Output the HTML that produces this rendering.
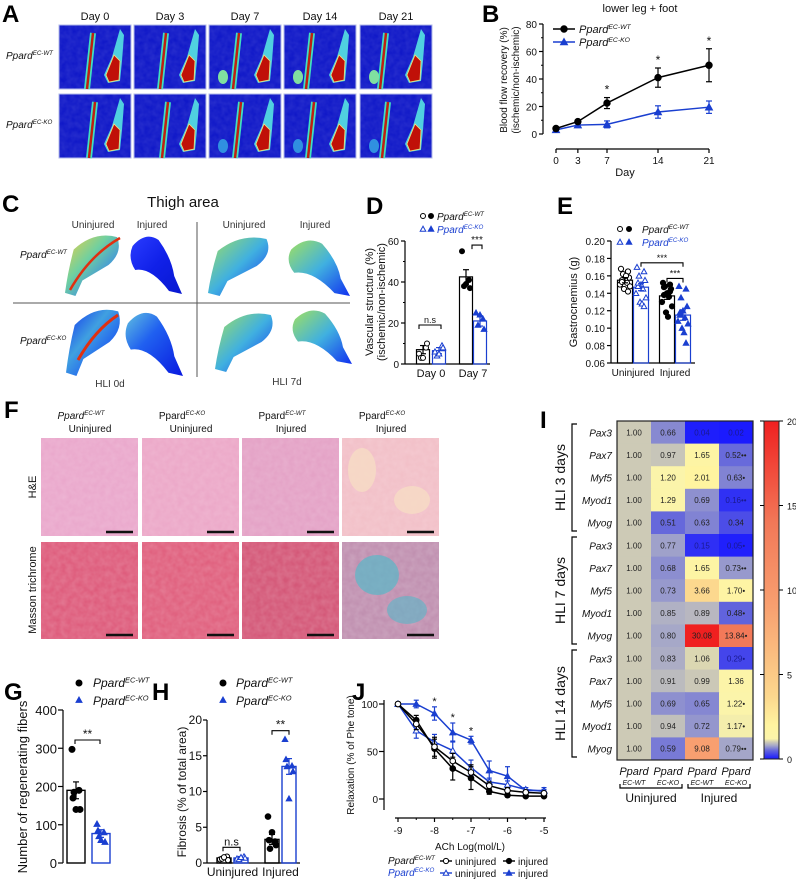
<!DOCTYPE html>
<html><head><meta charset="utf-8"><title>Figure</title>
<style>
html,body{margin:0;padding:0;background:#fff;}
svg{display:block;font-family:"Liberation Sans",Arial,sans-serif;}
</style></head>
<body>
<svg id="fig" width="796" height="882" viewBox="0 0 796 882" xmlns="http://www.w3.org/2000/svg">
<defs>
  <linearGradient id="gBlue" x1="0" y1="0" x2="1" y2="1"><stop offset="0" stop-color="#2a3cff"/><stop offset="0.5" stop-color="#1020e8"/><stop offset="1" stop-color="#0818d0"/></linearGradient>
  <linearGradient id="gWarm" x1="0" y1="0" x2="1" y2="1"><stop offset="0" stop-color="#f0d040"/><stop offset="0.4" stop-color="#70d0a0"/><stop offset="0.8" stop-color="#3080f0"/><stop offset="1" stop-color="#1030f0"/></linearGradient>
  <linearGradient id="gMid" x1="0" y1="0" x2="1" y2="1"><stop offset="0" stop-color="#a0e060"/><stop offset="0.5" stop-color="#40b0e0"/><stop offset="1" stop-color="#1030f0"/></linearGradient>
  <linearGradient id="gLow" x1="0" y1="0" x2="1" y2="1"><stop offset="0" stop-color="#60c0e0"/><stop offset="0.4" stop-color="#2060f0"/><stop offset="1" stop-color="#0818e0"/></linearGradient>
  <linearGradient id="gKO0" x1="0" y1="0" x2="1" y2="1"><stop offset="0" stop-color="#1030f0"/><stop offset="0.4" stop-color="#40a0e0"/><stop offset="0.7" stop-color="#2060f0"/><stop offset="1" stop-color="#1030f0"/></linearGradient>
  <linearGradient id="cbar" x1="0" y1="1" x2="0" y2="0"></linearGradient>
  <filter id="noise" x="0" y="0" width="1" height="1"><feTurbulence type="fractalNoise" baseFrequency="0.18" numOctaves="2" seed="3"/><feColorMatrix type="matrix" values="0 0 0 0 1  0 0 0 0 1  0 0 0 0 1  0 0 0 0.35 -0.05"/></filter>
</defs>
</svg>
<script>
// ---------------- DATA ----------------
// Panel B: blood flow recovery
const bDays = [0, 3, 7, 14, 21];
const bWT = [4, 9, 22.5, 41, 50];
const bWTerr = [1, 1, 4, 7, 12];
const bKO = [3, 6.5, 7, 16, 19.5];
const bKOerr = [1, 1, 2.5, 4.5, 4.5];
const bYTicks = [0, 20, 40, 60, 80];
// Panel D: vascular structure
const dGroups = ["Day 0", "Day 7"];
const dWT = [7, 42.5];
const dWTerr = [2, 3.5];
const dKO = [6.5, 21];
const dKOerr = [1.5, 2.5];
const dWTpts0 = [5, 8, 3, 10, 3];
const dKOpts0 = [6, 9, 4, 8, 5];
const dWTpts7 = [55, 41, 38, 37, 39];
const dKOpts7 = [25, 22, 19, 17, 24];
const dYTicks = [0, 20, 40, 60];
// Panel E: gastrocnemius
const eGroups = ["Uninjured", "Injured"];
const eMeans = [0.155, 0.147, 0.137, 0.115];
const eErr = [0.003, 0.004, 0.004, 0.006];
const ePts0 = [0.168, 0.165, 0.162, 0.158, 0.156, 0.155, 0.152, 0.150, 0.148, 0.145, 0.160, 0.142, 0.153];
const ePts1 = [0.170, 0.165, 0.160, 0.155, 0.150, 0.148, 0.145, 0.140, 0.135, 0.130, 0.128, 0.125, 0.152];
const ePts2 = [0.152, 0.150, 0.148, 0.145, 0.140, 0.138, 0.136, 0.130, 0.125, 0.118, 0.113, 0.142, 0.147];
const ePts3 = [0.148, 0.145, 0.135, 0.125, 0.120, 0.118, 0.112, 0.108, 0.105, 0.100, 0.095, 0.083, 0.115];
const eYTicks = [0.06, 0.08, 0.10, 0.12, 0.14, 0.16, 0.18, 0.20];
// Panel G
const gMeans = [190, 77];
const gErr = [22, 10];
const gWTpts = [297, 190, 185, 140, 140, 170];
const gKOpts = [102, 80, 70, 55, 60, 85];
const gYTicks = [0, 100, 200, 300, 400];
// Panel H
const hGroups = ["Uninjured", "Injured"];
const hMeans = [0.7, 0.7, 3.3, 13.5];
const hErr = [0.2, 0.2, 0.7, 1.1];
const hPts0 = [0.5, 0.9, 0.6, 0.4, 0.8];
const hPts1 = [0.6, 0.9, 0.5, 0.7, 0.8];
const hPts2 = [6.5, 3.0, 2.0, 2.5, 4.3, 3.2];
const hPts3 = [17.3, 13.6, 13.5, 12.8, 9.0, 14.5];
const hYTicks = [0, 5, 10, 15, 20];
// Panel J
const jX = [-9, -8.5, -8, -7.5, -7, -6.5, -6, -5.5, -5];
const jWTu = [100, 79, 55, 40, 28, 14, 9, 7, 6];
const jWTuErr = [0, 6, 10, 8, 8, 4, 3, 2, 2];
const jWTi = [100, 83, 53, 32, 22, 8, 4, 3, 3];
const jWTiErr = [0, 5, 10, 12, 12, 3, 2, 1, 1];
const jKOu = [100, 72, 60, 51, 33, 18, 15, 10, 8];
const jKOuErr = [0, 8, 8, 10, 8, 4, 4, 2, 2];
const jKOi = [100, 100, 90, 70, 62, 30, 24, 9, 9];
const jKOiErr = [0, 4, 7, 10, 4, 10, 10, 3, 3];
const jXTicks = [-9, -8, -7, -6, -5];
const jYTicks = [0, 50, 100];
// Panel I heatmap
const iGenes = ["Pax3", "Pax7", "Myf5", "Myod1", "Myog", "Pax3", "Pax7", "Myf5", "Myod1", "Myog", "Pax3", "Pax7", "Myf5", "Myod1", "Myog"];
const iGroups = ["HLI 3 days", "HLI 7 days", "HLI 14 days"];
const iValues = [
  [1.00, 0.66, 0.04, 0.02], [1.00, 0.97, 1.65, 0.52], [1.00, 1.20, 2.01, 0.63], [1.00, 1.29, 0.69, 0.16], [1.00, 0.51, 0.63, 0.34],
  [1.00, 0.77, 0.15, 0.05], [1.00, 0.68, 1.65, 0.73], [1.00, 0.73, 3.66, 1.70], [1.00, 0.85, 0.89, 0.48], [1.00, 0.80, 30.08, 13.84],
  [1.00, 0.83, 1.06, 0.29], [1.00, 0.91, 0.99, 1.36], [1.00, 0.69, 0.65, 1.22], [1.00, 0.94, 0.72, 1.17], [1.00, 0.59, 9.08, 0.79]
];
const iStars = ["", "**", "*", "**", "", "*", "**", "*", "*", "*", "*", "", "*", "*", "**"];
const iCbTicks = [0, 5, 10, 15, 20];

// ---------------- HELPERS ----------------
const NS = "http://www.w3.org/2000/svg";
const svg = document.getElementById("fig");
function mk(tag, attrs, name, parent) {
  const el = document.createElementNS(NS, tag);
  for (const k in attrs) el.setAttribute(k, attrs[k]);
  
  
  (parent || svg).appendChild(el);
  return el;
}
function line(x1, y1, x2, y2, c, w, name) { return mk("line", {x1, y1, x2, y2, stroke: c || "#000", "stroke-width": w || 1.2}, name || "line"); }
function txt(x, y, s, size, name, opt) {
  opt = opt || {};
  const t = mk("text", {x, y, "font-size": size, "text-anchor": opt.a || "start", fill: opt.c || "#111", "font-style": opt.i ? "italic" : "normal", "font-weight": opt.b ? "bold" : "normal"}, name);
  if (opt.rot) t.setAttribute("transform", "rotate(-90 " + x + " " + y + ")");
  t.textContent = s;
  return t;
}
function pp(x, y, sup, size, name, opt) {
  opt = opt || {};
  const t = mk("text", {x, y, "font-size": size, "text-anchor": opt.a || "start", fill: opt.c || "#111"}, name);
  const a = document.createElementNS(NS, "tspan");
  a.setAttribute("font-style", opt.noItal ? "normal" : "italic");
  a.textContent = "Ppard";
  t.appendChild(a);
  const b = document.createElementNS(NS, "tspan");
  b.setAttribute("font-style", "italic");
  b.setAttribute("font-size", size * 0.62);
  b.setAttribute("dy", -size * 0.38);
  b.textContent = sup;
  t.appendChild(b);
  return t;
}
function circ(x, y, r, fill, stroke, name) { return mk("circle", {cx: x, cy: y, r, fill, stroke: stroke || fill, "stroke-width": 1}, name); }
function tri(x, y, s, fill, stroke, name) {
  return mk("polygon", {points: (x) + "," + (y - s) + " " + (x - s) + "," + (y + s * 0.8) + " " + (x + s) + "," + (y + s * 0.8), fill, stroke: stroke || fill, "stroke-width": 1}, name);
}
function errbar(x, y1, y2, c, cap, name) {
  line(x, y1, x, y2, c, 1.2, name);
  line(x - cap, y1, x + cap, y1, c, 1.2, name + "-cap-top");
  line(x - cap, y2, x + cap, y2, c, 1.2, name + "-cap-bottom");
}
function bracket(x1, x2, y, label, name, size) {
  mk("polyline", {points: x1 + "," + (y + 4) + " " + x1 + "," + y + " " + x2 + "," + y + " " + x2 + "," + (y + 4), fill: "none", stroke: "#000", "stroke-width": 1.1}, name);
  txt((x1 + x2) / 2, y - 2, label, size || 11, name + "-label", {a: "middle"});
}
function panelLetter(x, y, s) { txt(x, y, s, 24, "panel-letter-" + s.toLowerCase(), {b: true, c: "#000"}); }
const jit = [-4, 3, -2, 4, 0, -3, 2, -5, 5, -1, 1, 3, -3];

// ---------------- PANEL A (images) ----------------
panelLetter(2, 22, "A");
const aCols = [59, 134, 209, 284, 360];
const aDays = ["Day 0", "Day 3", "Day 7", "Day 14", "Day 21"];
aCols.forEach((x, i) => {
  txt(x + 36, 20, aDays[i], 11, "day-label-" + i, {a: "middle"});
  [25, 94].forEach((y, r) => {
    mk("rect", {x, y, width: 72, height: 64, fill: "#1018c8", stroke: "#b0b8e8", "stroke-width": 1}, "laser-doppler-image");
    mk("rect", {x, y, width: 72, height: 64, fill: "#fff", filter: "url(#noise)", opacity: 0.35}, "image-texture");
    const vx = x + 30 - i * 2 + r * 2;
    mk("path", {d: "M" + (vx + 4) + "," + (y + 8) + " L" + (vx - 2) + "," + (y + 64), stroke: "#40e0c0", "stroke-width": 6, fill: "none"}, "vessel-outline");
    mk("path", {d: "M" + (vx + 4) + "," + (y + 8) + " L" + (vx - 2) + "," + (y + 64), stroke: "#c02010", "stroke-width": 2.5, fill: "none"}, "vessel");
    const fx = x + 55;
    mk("path", {d: "M" + (fx + 6) + "," + (y + 4) + " L" + (fx - 2) + "," + (y + 32) + " L" + (fx - 10) + "," + (y + 50) + " L" + (fx - 6) + "," + (y + 58) + " L" + (fx + 6) + "," + (y + 56) + " L" + (fx + 8) + "," + (y + 36) + " L" + (fx + 10) + "," + (y + 10) + "Z", fill: "#50d0e0", stroke: "none"}, "foot-halo");
    mk("path", {d: "M" + (fx) + "," + (y + 30) + " L" + (fx - 8) + "," + (y + 50) + " L" + (fx - 5) + "," + (y + 57) + " L" + (fx + 5) + "," + (y + 55) + " L" + (fx + 6) + "," + (y + 36) + "Z", fill: "#c01008", stroke: "#f0e080", "stroke-width": 0.8}, "foot");
    if (i >= 2) {
      const gx = x + 14;
      mk("ellipse", {cx: gx, cy: y + 52, rx: 5, ry: 7, fill: r ? "#3090e0" : "#80e0a0"}, "ischemic-foot");
    }
  });
});
pp(6, 59, "EC-WT", 10, "row-label-wt-a");
pp(6, 128, "EC-KO", 10, "row-label-ko-a");

// ---------------- PANEL B ----------------
panelLetter(482, 22, "B");
txt(640, 12, "lower leg + foot", 11, "b-title", {a: "middle"});
const xB = d => 556 + d * (153 / 21);
const yB = v => 134 - v * (110 / 80);
line(543, 24, 543, 134, "#000", 1.2, "b-y-axis");
bYTicks.forEach(t => { line(539, yB(t), 543, yB(t), "#000", 1.2, "b-y-tick"); txt(537, yB(t) + 4, String(t), 10, "b-y-tick-label", {a: "end"}); });
[10, 30, 50, 70].forEach(t => line(541, yB(t), 543, yB(t), "#000", 1, "b-y-minor-tick"));
line(556, 149, 709, 149, "#000", 1.2, "b-x-axis");
bDays.forEach(d => { line(xB(d), 149, xB(d), 153, "#000", 1.2, "b-x-tick"); txt(xB(d), 164, String(d), 10, "b-x-tick-label", {a: "middle"}); });
txt(625, 176, "Day", 11, "b-x-axis-title", {a: "middle"});
txt(507, 80, "Blood flow recovery (%)", 10, "b-y-axis-title", {a: "middle", rot: true});
txt(519, 80, "(ischemic/non-ischemic)", 10, "b-y-axis-title-2", {a: "middle", rot: true});
mk("polyline", {points: bDays.map((d, i) => xB(d) + "," + yB(bKO[i])).join(" "), fill: "none", stroke: "#1a3fd0", "stroke-width": 1.5}, "b-ko-line");
mk("polyline", {points: bDays.map((d, i) => xB(d) + "," + yB(bWT[i])).join(" "), fill: "none", stroke: "#000", "stroke-width": 1.5}, "b-wt-line");
bDays.forEach((d, i) => {
  errbar(xB(d), yB(bKO[i] + bKOerr[i]), yB(bKO[i] - bKOerr[i]), "#1a3fd0", 3, "b-ko-errorbar");
  tri(xB(d), yB(bKO[i]), 3.5, "#1a3fd0", null, "b-ko-point");
  errbar(xB(d), yB(bWT[i] + bWTerr[i]), yB(bWT[i] - bWTerr[i]), "#000", 3, "b-wt-errorbar");
  circ(xB(d), yB(bWT[i]), 3.2, "#000", null, "b-wt-point");
  if (i >= 2) txt(xB(d), yB(bWT[i] + bWTerr[i]) - 4, "*", 12, "b-significance", {a: "middle"});
});
line(553, 29, 575, 29, "#000", 1.5, "b-legend-wt-line"); circ(564, 29, 3.2, "#000", null, "b-legend-wt-marker");
pp(579, 33, "EC-WT", 11, "b-legend-wt-label");
line(553, 42, 575, 42, "#1a3fd0", 1.5, "b-legend-ko-line"); tri(564, 42, 3.5, "#1a3fd0", null, "b-legend-ko-marker");
pp(579, 46, "EC-KO", 11, "b-legend-ko-label");

// ---------------- PANEL C (images) ----------------
panelLetter(2, 212, "C");
txt(183, 207, "Thigh area", 15, "c-title", {a: "middle"});
txt(93, 228, "Uninjured", 10, "c-col-uninjured-0d", {a: "middle", c: "#333"});
txt(152, 228, "Injured", 10, "c-col-injured-0d", {a: "middle", c: "#333"});
txt(244, 228, "Uninjured", 10, "c-col-uninjured-7d", {a: "middle", c: "#333"});
txt(315, 228, "Injured", 10, "c-col-injured-7d", {a: "middle", c: "#333"});
line(197, 222, 197, 377, "#555", 1, "c-vertical-divider");
line(13, 303, 350, 303, "#555", 1, "c-horizontal-divider");
pp(20, 258, "EC-WT", 10, "c-row-label-wt");
pp(20, 344, "EC-KO", 10, "c-row-label-ko");
txt(110, 387, "HLI 0d", 10, "c-hli-0d", {a: "middle", c: "#333"});
txt(287, 385, "HLI 7d", 10, "c-hli-7d", {a: "middle", c: "#333"});
function thigh(x, y, w, h, fill, name) {
  mk("path", {d: "M" + (x + w * 0.15) + "," + (y + h * 0.25) + " Q" + (x + w * 0.5) + "," + (y - h * 0.05) + " " + (x + w * 0.9) + "," + (y + h * 0.05) + " Q" + (x + w * 1.0) + "," + (y + h * 0.3) + " " + (x + w * 0.75) + "," + (y + h * 0.5) + " L" + (x + w * 0.3) + "," + (y + h * 0.75) + " L" + (x + w * 0.18) + "," + (y + h) + " L" + (x) + "," + (y + h * 0.95) + " Q" + (x + w * 0.05) + "," + (y + h * 0.6) + " " + (x + w * 0.15) + "," + (y + h * 0.25) + "Z", fill}, name);
}
function thighInj(x, y, w, h, fill, name) {
  mk("path", {d: "M" + (x + w * 0.05) + "," + (y + h * 0.2) + " Q" + (x + w * 0.3) + "," + (y - h * 0.05) + " " + (x + w * 0.55) + "," + (y + h * 0.1) + " Q" + (x + w * 0.8) + "," + (y + h * 0.4) + " " + (x + w * 0.85) + "," + (y + h * 0.7) + " L" + (x + w) + "," + (y + h) + " L" + (x + w * 0.75) + "," + (y + h * 0.95) + " Q" + (x + w * 0.4) + "," + (y + h * 0.55) + " " + (x + w * 0.1) + "," + (y + h * 0.6) + " Q" + (x - w * 0.05) + "," + (y + h * 0.4) + " " + (x + w * 0.05) + "," + (y + h * 0.2) + "Z", fill}, name);
}
thigh(65, 234, 58, 62, "url(#gWarm)", "c-wt-uninjured-0d");
mk("path", {d: "M70,290 Q90,255 120,238", stroke: "#e03010", "stroke-width": 2.5, fill: "none"}, "c-vessel");
thighInj(130, 234, 52, 60, "url(#gBlue)", "c-wt-injured-0d");
thigh(208, 236, 65, 60, "url(#gMid)", "c-wt-uninjured-7d");
thighInj(288, 238, 62, 58, "url(#gMid)", "c-wt-injured-7d");
thigh(66, 308, 58, 68, "url(#gKO0)", "c-ko-uninjured-0d");
mk("path", {d: "M78,360 Q95,330 118,315", stroke: "#e03010", "stroke-width": 3, fill: "none"}, "c-vessel-ko");
thighInj(125, 310, 58, 66, "url(#gLow)", "c-ko-injured-0d");
thigh(215, 312, 62, 60, "url(#gMid)", "c-ko-uninjured-7d");
thighInj(292, 308, 60, 56, "url(#gMid)", "c-ko-injured-7d");

// ---------------- PANEL D ----------------
panelLetter(366, 214, "D");
const yD = v => 364 - v * (123 / 60);
line(405, 241, 405, 364, "#000", 1.2, "d-y-axis");
dYTicks.forEach(t => { line(401, yD(t), 405, yD(t), "#000", 1.2, "d-y-tick"); txt(399, yD(t) + 4, String(t), 10, "d-y-tick-label", {a: "end"}); });
[10, 30, 50].forEach(t => line(403, yD(t), 405, yD(t), "#000", 1, "d-y-minor-tick"));
line(405, 364, 490, 364, "#000", 1.2, "d-x-axis");
const dX = [[423, 439], [466, 480]];
dGroups.forEach((g, gi) => {
  txt((dX[gi][0] + dX[gi][1]) / 2, 377, g, 11, "d-x-label", {a: "middle"});
  mk("rect", {x: dX[gi][0] - 6.5, y: yD(dWT[gi]), width: 13, height: 364 - yD(dWT[gi]), fill: "none", stroke: "#000", "stroke-width": 1.2}, "d-bar-wt");
  mk("rect", {x: dX[gi][1] - 6.5, y: yD(dKO[gi]), width: 13, height: 364 - yD(dKO[gi]), fill: "none", stroke: "#1a3fd0", "stroke-width": 1.2}, "d-bar-ko");
  errbar(dX[gi][0], yD(dWT[gi] + dWTerr[gi]), yD(dWT[gi] - dWTerr[gi]), "#000", 3, "d-wt-errorbar");
  errbar(dX[gi][1], yD(dKO[gi] + dKOerr[gi]), yD(dKO[gi] - dKOerr[gi]), "#1a3fd0", 3, "d-ko-errorbar");
});
dWTpts0.forEach((v, k) => circ(dX[0][0] + jit[k], yD(v), 2.5, "#fff", "#000", "d-wt-day0-point"));
dKOpts0.forEach((v, k) => tri(dX[0][1] + jit[k], yD(v), 2.8, "#fff", "#1a3fd0", "d-ko-day0-point"));
dWTpts7.forEach((v, k) => circ(dX[1][0] + jit[k], yD(v), 2.5, "#000", null, "d-wt-day7-point"));
dKOpts7.forEach((v, k) => tri(dX[1][1] + jit[k], yD(v), 2.8, "#1a3fd0", null, "d-ko-day7-point"));
bracket(dX[0][0] - 4, dX[0][1] + 2, yD(20) + 2, "n.s", "d-ns-bracket", 9);
bracket(dX[1][0] + 6, dX[1][1] + 2, yD(58), "***", "d-sig-bracket", 10);
txt(373, 302, "Vascular structure (%)", 11, "d-y-axis-title", {a: "middle", rot: true});
txt(385, 302, "(ischemic/non-ischemic)", 11, "d-y-axis-title-2", {a: "middle", rot: true});
circ(423, 216, 2.5, "#fff", "#000", "d-legend-open-circle"); circ(431, 216, 2.5, "#000", null, "d-legend-circle");
pp(437, 220, "EC-WT", 10, "d-legend-wt");
tri(423, 229, 2.8, "#fff", "#1a3fd0", "d-legend-open-tri"); tri(431, 229, 2.8, "#1a3fd0", null, "d-legend-tri");
pp(437, 233, "EC-KO", 10, "d-legend-ko", {c: "#1a3fd0"});

// ---------------- PANEL E ----------------
panelLetter(557, 214, "E");
const yE = v => 363 - (v - 0.06) * (122 / 0.14);
line(611, 241, 611, 363, "#000", 1.2, "e-y-axis");
eYTicks.forEach(t => { line(607, yE(t), 611, yE(t), "#000", 1.2, "e-y-tick"); txt(605, yE(t) + 4, t.toFixed(2), 10, "e-y-tick-label", {a: "end"}); });
line(611, 363, 695, 363, "#000", 1.2, "e-x-axis");
const eX = [625, 641, 667, 683];
const eCol = ["#000", "#1a3fd0", "#000", "#1a3fd0"];
eMeans.forEach((m, i) => {
  mk("rect", {x: eX[i] - 7.5, y: yE(m), width: 15, height: 363 - yE(m), fill: "none", stroke: eCol[i], "stroke-width": 1.2}, "e-bar");
});
ePts0.forEach((v, k) => circ(eX[0] + jit[k], yE(v), 2.6, "#fff", "#000", "e-wt-uninjured-point"));
ePts1.forEach((v, k) => tri(eX[1] + jit[k], yE(v), 2.8, "#fff", "#1a3fd0", "e-ko-uninjured-point"));
ePts2.forEach((v, k) => circ(eX[2] + jit[k], yE(v), 2.6, "#000", null, "e-wt-injured-point"));
ePts3.forEach((v, k) => tri(eX[3] + jit[k], yE(v), 2.8, "#1a3fd0", null, "e-ko-injured-point"));
eMeans.forEach((m, i) => errbar(eX[i], yE(m + eErr[i]), yE(m - eErr[i]), eCol[i], 3, "e-errorbar"));
eGroups.forEach((g, gi) => txt((eX[gi * 2] + eX[gi * 2 + 1]) / 2, 376, g, 10, "e-x-label", {a: "middle"}));
bracket(eX[1], eX[3], yE(0.175), "***", "e-sig-bracket-ko", 9);
bracket(eX[2], eX[3], yE(0.157), "***", "e-sig-bracket-injured", 9);
txt(577, 302, "Gastrocnemius (g)", 11, "e-y-axis-title", {a: "middle", rot: true});
circ(620, 229, 2.5, "#fff", "#000", "e-legend-open-circle"); circ(629, 229, 2.5, "#000", null, "e-legend-circle");
pp(642, 233, "EC-WT", 10, "e-legend-wt");
tri(620, 242, 2.8, "#fff", "#1a3fd0", "e-legend-open-tri"); tri(629, 242, 2.8, "#1a3fd0", null, "e-legend-tri");
pp(642, 246, "EC-KO", 10, "e-legend-ko", {c: "#1a3fd0"});

// ---------------- PANEL F (histology) ----------------
panelLetter(4, 418, "F");
const fCols = [41, 142, 242, 342];
const fTitles = [["EC-WT", "Uninjured", true], ["EC-KO", "Uninjured", false], ["EC-WT", "Injured", false], ["EC-KO", "Injured", false]];
const heCol = ["#eaa8cc", "#eca8c8", "#e4a2c6", "#f2c0c8"];
const mtCol = ["#de5c7c", "#e0607e", "#d45878", "#c090b0"];
fCols.forEach((x, i) => {
  pp(x + 40, 419, fTitles[i][0], 10, "f-col-title", {a: "middle", noItal: !fTitles[i][2]});
  txt(x + 49, 432, fTitles[i][1], 10, "f-col-subtitle", {a: "middle"});
  mk("rect", {x, y: 438, width: 97, height: 98, fill: heCol[i]}, "he-image");
  mk("rect", {x, y: 438, width: 97, height: 98, fill: "#fff", filter: "url(#noise)", opacity: 0.5}, "he-texture");
  mk("rect", {x, y: 542, width: 97, height: 97, fill: mtCol[i]}, "masson-image");
  mk("rect", {x, y: 542, width: 97, height: 97, fill: "#fff", filter: "url(#noise)", opacity: 0.6}, "masson-texture");
  if (i === 3) {
    mk("ellipse", {cx: x + 20, cy: 470, rx: 14, ry: 22, fill: "#f6dcc4", opacity: 0.8}, "he-fibrotic-area");
    mk("ellipse", {cx: x + 70, cy: 500, rx: 18, ry: 14, fill: "#f6dcc4", opacity: 0.8}, "he-fibrotic-area");
    mk("ellipse", {cx: x + 35, cy: 575, rx: 22, ry: 20, fill: "#58b8c8", opacity: 0.7}, "masson-fibrotic-area");
    mk("ellipse", {cx: x + 65, cy: 610, rx: 20, ry: 14, fill: "#58b8c8", opacity: 0.6}, "masson-fibrotic-area");
  }
  line(x + 65, 532, x + 92, 532, "#111", 2.5, "he-scale-bar");
  line(x + 65, 635, x + 92, 635, "#111", 2.5, "masson-scale-bar");
});
txt(36, 487, "H&E", 11, "f-row-he", {a: "middle", rot: true});
txt(36, 590, "Masson trichrome", 11, "f-row-masson", {a: "middle", rot: true});

// ---------------- PANEL G ----------------
panelLetter(4, 700, "G");
const yG = v => 863 - v * (153 / 400);
line(63, 710, 63, 863, "#000", 1.2, "g-y-axis");
gYTicks.forEach(t => { line(58, yG(t), 63, yG(t), "#000", 1.2, "g-y-tick"); txt(57, yG(t) + 5, String(t), 13, "g-y-tick-label", {a: "end"}); });
const gX = [76, 101];
const gCol = ["#000", "#1a3fd0"];
gMeans.forEach((m, i) => {
  mk("rect", {x: gX[i] - 9, y: yG(m), width: 18, height: 863 - yG(m), fill: "none", stroke: gCol[i], "stroke-width": 1.4}, "g-bar");
  errbar(gX[i], yG(m + gErr[i]), yG(m - gErr[i]), gCol[i], 3, "g-errorbar");
});
gWTpts.forEach((v, k) => circ(gX[0] + jit[k], yG(v), 3, "#000", null, "g-wt-point"));
gKOpts.forEach((v, k) => tri(gX[1] + jit[k], yG(v), 3, "#1a3fd0", null, "g-ko-point"));
bracket(75, 100, 740, "**", "g-sig-bracket", 12);
txt(27, 787, "Number of regenerating fibers", 13, "g-y-axis-title", {a: "middle", rot: true});
circ(79, 683, 3, "#000", null, "g-legend-wt-marker"); pp(93, 687, "EC-WT", 12, "g-legend-wt");
tri(79, 700, 3, "#1a3fd0", null, "g-legend-ko-marker"); pp(93, 705, "EC-KO", 12, "g-legend-ko");

// ---------------- PANEL H ----------------
panelLetter(152, 700, "H");
const yH = v => 863 - v * (143 / 20);
line(207, 720, 207, 863, "#000", 1.2, "h-y-axis");
hYTicks.forEach(t => { line(203, yH(t), 207, yH(t), "#000", 1.2, "h-y-tick"); txt(202, yH(t) + 4, String(t), 12, "h-y-tick-label", {a: "end"}); });
line(207, 863, 300, 863, "#000", 1.2, "h-x-axis");
const hX = [224, 241, 272, 289];
const hColr = ["#000", "#1a3fd0", "#000", "#1a3fd0"];
hMeans.forEach((m, i) => {
  mk("rect", {x: hX[i] - 7, y: yH(m), width: 14, height: 863 - yH(m), fill: "none", stroke: hColr[i], "stroke-width": 1.4}, "h-bar");
  errbar(hX[i], yH(m + hErr[i]), yH(Math.max(0, m - hErr[i])), hColr[i], 3, "h-errorbar");
});
hPts0.forEach((v, k) => circ(hX[0] + jit[k], yH(v), 2.6, "#fff", "#000", "h-wt-uninjured-point"));
hPts1.forEach((v, k) => tri(hX[1] + jit[k], yH(v), 2.8, "#fff", "#1a3fd0", "h-ko-uninjured-point"));
hPts2.forEach((v, k) => circ(hX[2] + jit[k], yH(v), 2.8, "#000", null, "h-wt-injured-point"));
hPts3.forEach((v, k) => tri(hX[3] + jit[k], yH(v), 2.8, "#1a3fd0", null, "h-ko-injured-point"));
hGroups.forEach((g, gi) => txt((hX[gi * 2] + hX[gi * 2 + 1]) / 2, 876, g, 12, "h-x-label", {a: "middle"}));
bracket(223, 240, yH(2.2), "n.s", "h-ns-bracket", 11);
bracket(272, 289, yH(18.5), "**", "h-sig-bracket", 12);
txt(186, 792, "Fibrosis (% of total area)", 12, "h-y-axis-title", {a: "middle", rot: true});
circ(223, 683, 3, "#000", null, "h-legend-wt-marker"); pp(236, 687, "EC-WT", 12, "h-legend-wt");
tri(223, 700, 3, "#1a3fd0", null, "h-legend-ko-marker"); pp(236, 705, "EC-KO", 12, "h-legend-ko");

// ---------------- PANEL J ----------------
panelLetter(352, 700, "J");
const xJ = v => 398 + (v + 9) * 36.5;
const yJ = v => 799 - v * 0.95;
line(384, 700, 384, 810, "#000", 1.2, "j-y-axis");
jYTicks.forEach(t => { line(379, yJ(t), 384, yJ(t), "#000", 1.2, "j-y-tick"); txt(378, yJ(t) + 4, String(t), 10, "j-y-tick-label", {a: "end"}); });
line(395, 818, 546, 818, "#000", 1.2, "j-x-axis");
jXTicks.forEach(t => { line(xJ(t), 818, xJ(t), 822, "#000", 1.2, "j-x-tick"); txt(xJ(t), 834, String(t), 10, "j-x-tick-label", {a: "middle"}); });
jX.forEach(t => line(xJ(t), 818, xJ(t), 820, "#000", 1, "j-x-minor-tick"));
txt(470, 850, "ACh Log(mol/L)", 10, "j-x-axis-title", {a: "middle"});
txt(354, 755, "Relaxation (% of Phe tone)", 10, "j-y-axis-title", {a: "middle", rot: true});
const jSeries = [
  [jKOi, jKOiErr, "#1a3fd0", "tri", true, "j-ko-injured"],
  [jKOu, jKOuErr, "#1a3fd0", "tri", false, "j-ko-uninjured"],
  [jWTi, jWTiErr, "#000", "circ", true, "j-wt-injured"],
  [jWTu, jWTuErr, "#000", "circ", false, "j-wt-uninjured"]
];
jSeries.forEach(s => {
  mk("polyline", {points: jX.map((x, i) => xJ(x) + "," + yJ(s[0][i])).join(" "), fill: "none", stroke: s[2], "stroke-width": 1.5}, s[5] + "-line");
  jX.forEach((x, i) => {
    if (s[1][i] > 0) errbar(xJ(x), yJ(s[0][i] + s[1][i]), yJ(s[0][i] - s[1][i]), s[2], 2.5, s[5] + "-errorbar");
    if (s[3] === "tri") tri(xJ(x), yJ(s[0][i]), 3, s[4] ? s[2] : "#fff", s[2], s[5] + "-point");
    else circ(xJ(x), yJ(s[0][i]), 2.8, s[4] ? s[2] : "#fff", s[2], s[5] + "-point");
  });
});
[2, 3, 4].forEach(i => txt(xJ(jX[i]), yJ(jKOi[i] + jKOiErr[i]) - 2, "*", 11, "j-significance", {a: "middle"}));
pp(388, 864, "EC-WT", 10, "j-legend-wt");
pp(388, 876, "EC-KO", 10, "j-legend-ko", {c: "#1a3fd0"});
line(440, 861, 452, 861, "#000", 1.4, "j-legend-wt-uninj-line"); circ(446, 861, 2.6, "#fff", "#000", "j-legend-wt-uninj-marker");
txt(455, 865, "uninjured", 10, "j-legend-uninjured-1");
line(503, 861, 515, 861, "#000", 1.4, "j-legend-wt-inj-line"); circ(509, 861, 2.6, "#000", null, "j-legend-wt-inj-marker");
txt(518, 865, "injured", 10, "j-legend-injured-1");
line(440, 873, 452, 873, "#1a3fd0", 1.4, "j-legend-ko-uninj-line"); tri(446, 873, 2.8, "#fff", "#1a3fd0", "j-legend-ko-uninj-marker");
txt(455, 877, "uninjured", 10, "j-legend-uninjured-2");
line(503, 873, 515, 873, "#1a3fd0", 1.4, "j-legend-ko-inj-line"); tri(509, 873, 2.8, "#1a3fd0", null, "j-legend-ko-inj-marker");
txt(518, 877, "injured", 10, "j-legend-injured-2");

// ---------------- PANEL I (heatmap) ----------------
txt(540, 428, "I", 24, "panel-letter-i", {b: true, c: "#000"});
const cStops = [[0, [24, 24, 255]], [0.5, [100, 102, 220]], [0.8, [166, 168, 200]], [1, [205, 202, 182]], [1.2, [251, 244, 170]], [2, [255, 244, 160]], [3.66, [252, 216, 142]], [9, [248, 160, 112]], [14, [242, 120, 88]], [20, [240, 32, 32]]];
function hcol(v) {
  v = Math.min(v, 20);
  for (let k = 1; k < cStops.length; k++) {
    if (v <= cStops[k][0]) {
      const a = cStops[k - 1], b = cStops[k], t = (v - a[0]) / (b[0] - a[0]);
      return "rgb(" + a[1].map((c, j) => Math.round(c + (b[1][j] - c) * t)).join(",") + ")";
    }
  }
  return "rgb(240,32,32)";
}
const hx0 = 617, hy0 = 421, cw = 34, rh = (760 - 421) / 15;
iValues.forEach((row, r) => {
  txt(hx0 - 5, hy0 + r * rh + rh / 2 + 4, iGenes[r], 10, "gene-label", {a: "end", i: true});
  row.forEach((v, c) => {
    mk("rect", {x: hx0 + c * cw, y: hy0 + r * rh, width: cw + 0.5, height: rh + 0.5, fill: hcol(v)}, "heatmap-cell");
    const s = v.toFixed(2) + (c === 3 ? iStars[r].replace(/\*/g, "\u2022") : "");
    txt(hx0 + c * cw + cw / 2, hy0 + r * rh + rh / 2 + 3, s, 8, "heatmap-value", {a: "middle", c: v < 0.3 ? "#1a1a90" : "#222"});
  });
});
mk("rect", {x: hx0, y: hy0, width: cw * 4, height: rh * 15, fill: "none", stroke: "#222", "stroke-width": 1.2}, "heatmap-border");
iGroups.forEach((g, gi) => {
  const y1 = hy0 + gi * 5 * rh + 3, y2 = hy0 + (gi + 1) * 5 * rh - 3;
  mk("polyline", {points: "577," + y1 + " 572," + y1 + " 572," + y2 + " 577," + y2, fill: "none", stroke: "#000", "stroke-width": 1.2}, "group-bracket");
  txt(565, (y1 + y2) / 2, g, 14, "group-label", {a: "middle", rot: true});
});
const colLab = ["EC-WT", "EC-KO", "EC-WT", "EC-KO"];
colLab.forEach((l, c) => {
  txt(hx0 + c * cw + cw / 2, 775, "Ppard", 11, "heatmap-col-gene", {a: "middle", i: true});
  txt(hx0 + c * cw + cw / 2, 785, l, 7, "heatmap-col-sub", {a: "middle", i: true});
});
mk("polyline", {points: "620,784 620,788 682,788 682,784", fill: "none", stroke: "#000", "stroke-width": 1.2}, "uninjured-bracket");
mk("polyline", {points: "688,784 688,788 750,788 750,784", fill: "none", stroke: "#000", "stroke-width": 1.2}, "injured-bracket");
txt(651, 802, "Uninjured", 12, "heatmap-uninjured-label", {a: "middle"});
txt(719, 802, "Injured", 12, "heatmap-injured-label", {a: "middle"});
// colorbar
const cb = document.getElementById("cbar");
cStops.forEach(s => {
  const st = document.createElementNS(NS, "stop");
  st.setAttribute("offset", s[0] / 20);
  st.setAttribute("stop-color", "rgb(" + s[1].join(",") + ")");
  cb.appendChild(st);
});
mk("rect", {x: 764, y: 421, width: 15, height: 338, fill: "url(#cbar)", stroke: "#222", "stroke-width": 1}, "colorbar");
iCbTicks.forEach(t => {
  const y = 759 - t * (338 / 20);
  line(779, y, 783, y, "#000", 1, "colorbar-tick");
  line(760, y, 764, y, "#000", 1, "colorbar-tick-left");
  txt(787, y + 4, String(t), 9, "colorbar-tick-label");
});
</script>
</body></html>
